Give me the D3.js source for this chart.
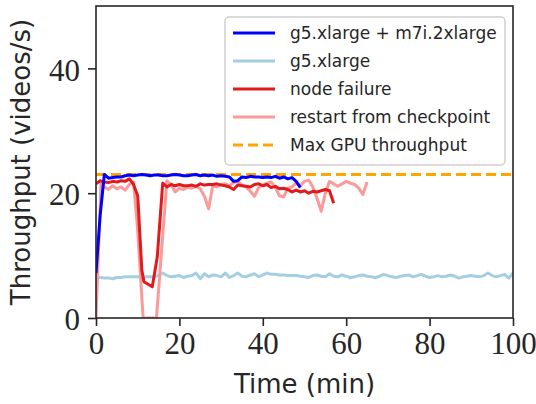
<!DOCTYPE html>
<html>
<head>
<meta charset="utf-8">
<script src="https://cdn.jsdelivr.net/npm/d3@7"></script>
<style>
  body { margin: 0; background: #fff; }
</style>
</head>
<body>
<div id="container"></div>
<script>
// one sample per minute, starting at t = 0
const hybridValues = [7.2, 16.5, 23.0, 22.4, 22.5, 22.6, 22.6, 22.8, 22.9, 22.8,
  22.9, 23.0, 22.9, 22.8, 22.9, 22.9, 22.8, 22.8, 22.9, 23.0,
  22.9, 22.8, 22.8, 22.9, 23.0, 22.8, 22.9, 22.8, 22.9, 22.7,
  22.8, 22.7, 22.6, 21.9, 22.0, 22.6, 22.5, 22.7, 22.6, 22.6,
  22.5, 22.6, 22.5, 22.7, 22.4, 22.6, 22.3, 22.5, 21.9, 20.9];

const gpuOnlyValues = [6.5, 6.5, 6.4, 6.4, 6.3, 6.5, 6.5, 6.6, 6.6, 6.6,
  6.6, 6.5, 6.6, 6.6, 6.5, 6.9, 7.2, 6.8, 6.6, 6.7,
  6.8, 6.5, 6.7, 6.8, 7.2, 6.3, 7.1, 6.6, 6.9, 6.8,
  6.6, 7.2, 6.5, 6.8, 7.2, 6.7, 6.6, 6.9, 7.1, 6.6,
  6.9, 7.2, 7.0, 7.0, 6.9, 6.9, 6.8, 6.8, 6.8, 6.7,
  6.6, 6.5, 6.8, 6.9, 6.7, 6.6, 7.1, 6.7, 6.6, 6.9,
  6.7, 6.45, 6.6, 6.8, 6.9, 6.7, 6.6, 6.45, 6.7, 7.0,
  6.8, 6.6, 6.5, 6.7, 6.8, 6.9, 6.6, 6.8, 7.0, 6.7,
  6.5, 6.6, 6.8, 6.6, 6.7, 6.9, 6.7, 6.4, 6.6, 6.7,
  6.8, 6.7, 6.6, 6.8, 7.2, 6.8, 6.6, 6.8, 7.0, 6.4, 7.2];

// [minute, throughput]
const nodeFailure = [[0, 21.5], [1, 22.0], [2, 21.8], [3, 21.7], [4, 21.9], [5, 21.8],
  [6, 22.0], [7, 21.9], [8, 22.3], [9, 21.4], [10, 19.6], [11, 7.6], [11.5, 5.8],
  [13.5, 5.0], [14.7, 9.8], [16, 21.6], [17, 21.0], [18, 21.4], [19, 21.2], [20, 21.4],
  [21, 21.2], [22, 21.2], [23, 21.3], [24, 21.1], [25, 21.5], [26, 21.3], [27, 21.4],
  [28, 21.4], [29, 21.5], [30, 21.3], [31, 21.2], [32, 21.0], [33, 20.6], [34, 21.3],
  [35, 21.2], [36, 21.1], [37, 21.0], [38, 21.4], [39, 21.5], [40, 21.2], [41, 21.4],
  [42, 20.9], [43, 21.1], [44, 20.7], [45, 20.8], [46, 20.6], [47, 20.2], [48, 20.5],
  [49, 20.2], [50, 20.4], [51, 20.0], [52, 20.3], [53, 20.2], [54, 20.4], [55, 20.6],
  [56, 20.4], [57, 18.4]];

const restartCheckpoint = [[0, 0], [1.2, 21.6], [2, 21.0], [3, 20.6], [4, 21.2], [5, 20.7],
  [6, 21.0], [7, 20.5], [8, 21.4], [9, 21.8], [10, 14], [11.3, 0], [14.5, 0], [17, 22.0],
  [18, 21.3], [19, 20.2], [20, 20.8], [21, 20.6], [22, 21.0], [23, 20.8], [24, 21.1],
  [25, 20.7], [26, 19.5], [27, 17.5], [28, 21.2], [29, 21.0], [30, 21.4], [31, 21.5],
  [32, 21.2], [33, 21.7], [34, 21.9], [35, 21.3], [36, 21.0], [37, 20.3], [38, 19.5],
  [39, 20.9], [40, 21.3], [41, 21.6], [42, 21.8], [43, 20.9], [44, 19.6], [45, 19.4],
  [46, 20.8], [47, 21.0], [48, 21.6], [49, 21.2], [50, 21.9], [51, 22.1], [52, 21.0],
  [53, 19.2], [54, 17.1], [55, 20.0], [56, 21.9], [57, 21.5], [58, 21.1], [59, 21.5],
  [60, 21.9], [61, 21.6], [62, 21.4], [63, 20.8], [64, 19.8], [65, 21.8]];

const maxGpuThroughput = 23;

const xTicks = [0, 20, 40, 60, 80, 100];
const yTicks = [0, 20, 40];

const legendLabels = ["g5.xlarge + m7i.2xlarge", "g5.xlarge", "node failure",
  "restart from checkpoint", "Max GPU throughput"];
const legendColors = ["#0000ff", "#a6cee3", "#e31a1c", "#fb9a99", "#ffa500"];

const width = 536;
const height = 404;
const marginLeft = 96;
const marginRight = 23;
const marginTop = 6;
const marginBottom = 86;

const svg = d3.select("#container")
  .append("svg")
  .attr("width", width)
  .attr("height", height);

const x = d3.scaleLinear()
  .domain([0, 100])
  .range([marginLeft, width - marginRight]);

const y = d3.scaleLinear()
  .domain([0, 50])
  .range([height - marginBottom, marginTop]);

svg.append("clipPath")
  .attr("id", "plot-clip")
  .append("rect")
  .attr("x", marginLeft)
  .attr("y", marginTop)
  .attr("width", x(100) - marginLeft)
  .attr("height", y(0) - marginTop);

const plot = svg.append("g").attr("clip-path", "url(#plot-clip)");

const line = d3.line()
  .x(d => x(d[0]))
  .y(d => y(d[1]));

const perMinute = values => values.map((v, i) => [i, v]);

// max gpu line first so the blue run sits on top
plot.append("path")
  .datum([[0, maxGpuThroughput], [100, maxGpuThroughput]])
  .attr("d", line)
  .attr("fill", "none")
  .attr("stroke", legendColors[4])
  .attr("stroke-width", 3)
  .attr("stroke-dasharray", "10,5");

const series = [
  { data: perMinute(gpuOnlyValues), color: legendColors[1] },
  { data: restartCheckpoint, color: legendColors[3] },
  { data: nodeFailure, color: legendColors[2] },
  { data: perMinute(hybridValues), color: legendColors[0] }
];

plot.selectAll("path.series")
  .data(series)
  .enter()
  .append("path")
  .attr("class", "series")
  .attr("d", d => line(d.data))
  .attr("fill", "none")
  .attr("stroke", d => d.color)
  .attr("stroke-width", 3)
  .attr("stroke-linejoin", "round");

// axes
const tickFont = "'Liberation Serif', serif";
const labelFont = "'DejaVu Sans', sans-serif";

const xAxis = svg.append("g")
  .attr("transform", `translate(0, ${y(0)})`)
  .call(d3.axisBottom(x).tickValues(xTicks).tickSize(8).tickPadding(6).tickSizeOuter(0));

const yAxis = svg.append("g")
  .attr("transform", `translate(${marginLeft}, 0)`)
  .call(d3.axisLeft(y).tickValues(yTicks).tickSize(8).tickPadding(8).tickSizeOuter(0));

[xAxis, yAxis].forEach(g => {
  g.select(".domain").remove();
  g.selectAll(".tick line").attr("stroke", "#262626").attr("stroke-width", 1.6);
  g.selectAll(".tick text")
    .attr("fill", "#262626")
    .style("font-family", tickFont)
    .style("font-size", "31px");
});
yAxis.selectAll(".tick text").attr("dy", "0.38em");

svg.append("rect")
  .attr("x", marginLeft)
  .attr("y", marginTop)
  .attr("width", x(100) - marginLeft)
  .attr("height", y(0) - marginTop)
  .attr("fill", "none")
  .attr("stroke", "#262626")
  .attr("stroke-width", 1.6);

svg.append("text")
  .attr("x", (marginLeft + x(100)) / 2)
  .attr("y", 393)
  .attr("text-anchor", "middle")
  .attr("fill", "#262626")
  .style("font-family", labelFont)
  .style("font-size", "26px")
  .text("Time (min)");

svg.append("text")
  .attr("transform", `translate(30, ${(marginTop + y(0)) / 2}) rotate(-90)`)
  .attr("text-anchor", "middle")
  .attr("fill", "#262626")
  .style("font-family", labelFont)
  .style("font-size", "26px")
  .text("Throughput (videos/s)");

// legend
const legend = svg.append("g");

legend.append("rect")
  .attr("x", 225)
  .attr("y", 17)
  .attr("width", 280)
  .attr("height", 148)
  .attr("rx", 4)
  .attr("fill", "#fff")
  .attr("fill-opacity", 0.8)
  .attr("stroke", "#d0d0d0")
  .attr("stroke-width", 1.5);

const rows = legend.selectAll("g.row")
  .data(legendLabels)
  .enter()
  .append("g")
  .attr("class", "row")
  .attr("transform", (d, i) => `translate(0, ${33 + i * 28})`);

rows.append("line")
  .attr("x1", 233)
  .attr("x2", 275)
  .attr("stroke", (d, i) => legendColors[i])
  .attr("stroke-width", 3)
  .attr("stroke-dasharray", (d, i) => i === 4 ? "10,5" : null);

rows.append("text")
  .attr("x", 290)
  .attr("dy", "0.36em")
  .attr("fill", "#262626")
  .style("font-family", labelFont)
  .style("font-size", "17px")
  .text(d => d);
</script>
</body>
</html>
